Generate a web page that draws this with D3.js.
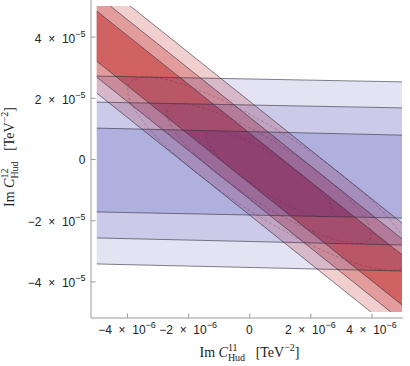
<!DOCTYPE html>
<html>
<head>
<meta charset="utf-8">
<script src="https://cdn.jsdelivr.net/npm/d3@7"></script>
<style>
body { margin: 0; background: #fff; }
svg { display: block; }
</style>
</head>
<body>
<div id="chart"></div>
<script>
const width = 410;
const height = 366;

const xDomain = [-5e-6, 5e-6];
const yDomain = [-5e-5, 5e-5];
const xTicks = [-4e-6, -2e-6, 0, 2e-6, 4e-6];
const xTickLabels = ['−4 × 10^−6', '−2 × 10^−6', '0', '2 × 10^−6', '4 × 10^−6'];
const yTicks = [-4e-5, -2e-5, 0, 2e-5, 4e-5];
const yTickLabels = ['−4 × 10^−5', '−2 × 10^−5', '0', '2 × 10^−5', '4 × 10^−5'];

// band edges read at x = edgeX[0] and x = edgeX[1]; order 3σ, 2σ, 1σ
const edgeX = [-5e-6, 5e-6];
const blueUpper = [[27.1e-6, 25.2e-6], [18.6e-6, 16.7e-6], [10.1e-6, 7.8e-6]];
const blueLower = [[-34.3e-6, -36.6e-6], [-25.8e-6, -28.1e-6], [-17.3e-6, -19.3e-6]];
const redUpper = [[58.8e-6, -20.9e-6], [53.6e-6, -26.1e-6], [48.4e-6, -31.3e-6]];
const redLower = [[21.6e-6, -58.1e-6], [26.8e-6, -52.9e-6], [32.0e-6, -47.7e-6]];

const redFill = ['#f2cfcf', '#e29c9c', '#d06262'];
const blueColor = 'rgb(0,0,150)';
const blueAlpha = [0.11, 0.106, 0.133];

const sans = 'Liberation Sans, Arial, sans-serif';
const serif = 'Liberation Serif, Times New Roman, serif';

const x = d3.scaleLinear().domain(xDomain).range([96.5, 402]);
const y = d3.scaleLinear().domain(yDomain).range([312, 6]);

const svg = d3.select('#chart').append('svg')
  .attr('width', width)
  .attr('height', height)
  .style('background-color', '#fff');

svg.append('clipPath').attr('id', 'plot')
  .append('rect')
  .attr('x', x.range()[0]).attr('y', y.range()[1])
  .attr('width', x.range()[1] - x.range()[0])
  .attr('height', y.range()[0] - y.range()[1]);

const band = (up, lo) => [
  [x(edgeX[0]), y(up[0])], [x(edgeX[1]), y(up[1])],
  [x(edgeX[1]), y(lo[1])], [x(edgeX[0]), y(lo[0])]
];

const plot = svg.append('g').attr('clip-path', 'url(#plot)');

plot.append('g')
  .selectAll('polygon')
  .data(redUpper)
  .join('polygon')
  .attr('points', (d, i) => band(d, redLower[i]).join(' '))
  .attr('fill', (d, i) => redFill[i]);

// blue bands go over the red ones, see-through
plot.append('g')
  .selectAll('polygon')
  .data(blueUpper)
  .join('polygon')
  .attr('points', (d, i) => band(d, blueLower[i]).join(' '))
  .attr('fill', blueColor)
  .attr('fill-opacity', (d, i) => blueAlpha[i]);

// combined contours (dashed), from the two bands
const lin = e => {
  const s = (e[1] - e[0]) / (edgeX[1] - edgeX[0]);
  return [e[0] - s * edgeX[0], s];
};
const mid = (u, l) => [(u[0] + l[0]) / 2, (u[1] + l[1]) / 2];
const [r0, r1] = lin(mid(redUpper[2], redLower[2]));
const [b0, b1] = lin(mid(blueUpper[2], blueLower[2]));

const ellipse = k => {
  const hr = (redUpper[k][0] - redLower[k][0]) / 2;
  const hb = (blueUpper[k][0] - blueLower[k][0]) / 2;
  return d3.range(0, 2 * Math.PI, Math.PI / 90).map(t => {
    const a = hr * Math.cos(t);
    const b = hb * Math.sin(t);
    const xv = (a - b - b0 + r0) / (b1 - r1);
    return [x(xv), y(a + r0 + r1 * xv)];
  });
};

plot.append('g')
  .selectAll('path')
  .data([0, 1, 2])
  .join('path')
  .attr('d', k => d3.line().curve(d3.curveLinearClosed)(ellipse(k)))
  .attr('fill', 'none')
  .attr('stroke', 'rgba(90,30,80,0.35)')
  .attr('stroke-width', 0.8)
  .attr('stroke-dasharray', '3,2');

const edges = [...blueUpper, ...blueLower, ...redUpper, ...redLower];
plot.append('g')
  .selectAll('line')
  .data(edges)
  .join('line')
  .attr('x1', x(edgeX[0])).attr('y1', d => y(d[0]))
  .attr('x2', x(edgeX[1])).attr('y2', d => y(d[1]))
  .attr('stroke', 'rgba(50,45,60,0.75)')
  .attr('stroke-width', 0.8);

// axes
const axisColor = '#9a9a9a';
svg.append('line')
  .attr('x1', 91).attr('y1', 0).attr('x2', 91).attr('y2', 318)
  .attr('stroke', axisColor);
svg.append('line')
  .attr('x1', 91).attr('y1', 318).attr('x2', 403).attr('y2', 318)
  .attr('stroke', axisColor);

const yAxis = svg.append('g')
  .attr('transform', 'translate(91,0)')
  .call(d3.axisLeft(y).tickValues(yTicks).tickSize(-4.5).tickFormat(''));
const xAxis = svg.append('g')
  .attr('transform', 'translate(0,318)')
  .call(d3.axisBottom(x).tickValues(xTicks).tickSize(-4.5).tickFormat(''));
[yAxis, xAxis].forEach(a => {
  a.select('.domain').remove();
  a.selectAll('line').attr('stroke', axisColor);
});

// text with super/subscripts, pieces laid out one after another
function richText(parent, parts, family) {
  const g = parent.append('g');
  let cx = 0, stackStart = 0, stackW = 0;
  parts.forEach(p => {
    const x0 = p.stack === 'second' ? stackStart : cx;
    const t = g.append('text')
      .attr('x', x0).attr('y', p.dy || 0)
      .attr('xml:space', 'preserve')
      .style('white-space', 'pre')
      .attr('font-family', family)
      .attr('font-size', p.size)
      .attr('font-style', p.italic ? 'italic' : null)
      .attr('fill', '#222')
      .text(p.t);
    const w = t.node().getComputedTextLength();
    if (p.stack === 'first') { stackStart = cx; stackW = w; }
    else if (p.stack === 'second') cx = stackStart + Math.max(stackW, w);
    else cx += w;
  });
  return { g, w: cx };
}

const tickParts = s => {
  const [base, ex] = s.split('^');
  const parts = [{ t: base.replace(/ × /, '  ×  '), size: 12 }];
  if (ex) parts.push({ t: ex, size: 9, dy: -6 });
  return parts;
};

yTicks.forEach((v, i) => {
  const lab = yTickLabels[i];
  const r = richText(svg, tickParts(lab), sans);
  r.g.attr('transform', `translate(${85.5 - r.w},${y(v) + (lab.includes('^') ? 6 : 4.5)})`);
});

xTicks.forEach((v, i) => {
  const r = richText(svg, tickParts(xTickLabels[i]), sans);
  r.g.attr('transform', `translate(${x(v) - r.w / 2},334)`);
});

const titleParts = idx => [
  { t: 'Im ', size: 14 },
  { t: 'C', size: 14, italic: true },
  { t: idx, size: 10, dy: -6.5, stack: 'first' },
  { t: 'Hud', size: 10, dy: 4, stack: 'second' },
  { t: '   [TeV', size: 14 },
  { t: '−2', size: 10, dy: -6 },
  { t: ']', size: 14 }
];

const xt = richText(svg, titleParts('11'), serif);
xt.g.attr('transform', `translate(${249.5 - xt.w / 2},357)`);

const yg = svg.append('g').attr('transform', 'translate(14,157) rotate(-90)');
const yt = richText(yg, titleParts('12'), serif);
yt.g.attr('transform', `translate(${-yt.w / 2},0)`);
</script>
</body>
</html>
